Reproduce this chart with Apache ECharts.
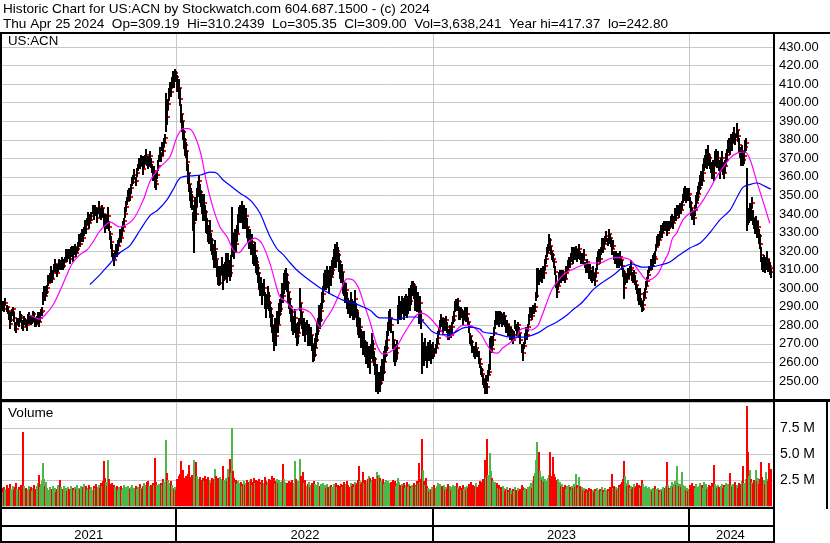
<!DOCTYPE html>
<html><head><meta charset="utf-8">
<script src="https://cdn.jsdelivr.net/npm/echarts@6/dist/echarts.min.js"></script>
<style>html,body{margin:0;padding:0;background:#fff}#c{width:830px;height:543px}</style>
</head><body><div id="c"></div>
<script>
// ---- categories (trading-day index of first session of each year) ----
const yearLabels = ['2021','2022','2023','2024'];
const yearStartIdx = [0, 175, 426, 676];
const priceTicks = [250,260,270,280,290,300,310,320,330,340,350,360,370,380,390,400,410,420,430];
const volumeTicks = [2.5, 5.0, 7.5];

// ---- daily close (US:ACN), Apr 2021 - Apr 25 2024 ----
const close = [
289,291,290,292,290,291,289,292,290,288,
285,281,283,287,289,284,280,278,281,283,
282,285,284,281,279,282,283,281,280,283,
285,284,282,283,286,284,282,281,283,284,
282,284,287,288,295,297,296,298,300,303,
306,309,305,308,311,313,311,308,312,314,
312,313,315,312,314,316,318,317,319,318,
316,319,321,317,320,322,319,321,323,326,
324,328,330,327,331,334,332,336,338,335,
337,339,342,340,343,341,338,342,344,341,
339,343,340,336,334,337,335,339,333,329,
325,320,317,315,318,321,319,323,325,328,
327,331,333,336,340,344,347,350,352,349,
354,357,359,361,358,362,365,368,366,370,
368,364,367,370,372,369,366,369,371,368,
364,361,363,358,356,361,366,370,373,371,
376,374,378,381,396,392,399,404,408,406,
411,414,412,416,414,
411,408,402,394,390,384,380,377,374,368,
362,356,352,349,347,335,338,344,340,350,
353,358,352,348,345,342,346,341,336,333,
330,328,331,326,322,320,317,321,316,310,
306,303,307,311,305,308,310,313,309,314,
311,308,312,330,325,322,326,324,329,336,
339,341,340,343,338,341,336,339,333,329,
326,328,322,325,319,316,320,314,311,308,
305,300,302,297,300,294,290,293,296,292,
289,285,280,276,272,278,274,283,280,286,
289,293,298,296,302,305,307,303,298,294,
290,287,283,279,281,284,277,274,276,280,
292,287,283,278,280,276,279,274,277,273,
275,270,266,264,268,272,277,280,285,283,
288,293,297,303,306,304,308,305,303,307,
306,310,313,316,318,316,320,318,314,311,
307,309,303,300,297,299,293,291,288,292,
290,287,289,294,288,284,281,277,279,274,
272,269,271,267,264,266,261,263,260,266,
270,267,262,258,250,253,248,251,249,254,
257,255,260,264,268,272,278,282,284,280,
272,266,262,265,268,285,291,289,287,292,
290,288,291,293,289,292,295,293,297,300,
302,298,294,296,291,293,288,292,283,262,
266,264,268,265,263,267,265,268,264,266,
267,
265,268,270,273,277,280,284,281,278,282,
280,283,279,276,274,277,275,279,283,285,
289,292,290,293,287,285,288,286,283,285,
288,284,286,282,279,274,271,268,267,266,
264,268,265,262,259,256,254,251,248,245,
250,247,253,255,268,271,267,272,276,281,
285,283,285,282,286,284,281,283,285,282,
279,281,277,279,275,277,274,272,275,280,
279,277,280,276,272,268,265,269,273,277,
275,279,283,286,288,285,289,288,290,296,
306,308,304,307,309,306,310,308,312,316,
319,322,326,323,320,318,316,314,309,303,
298,301,305,308,306,309,307,305,308,310,
312,315,313,317,319,316,320,318,321,317,
319,321,318,315,317,315,318,313,311,314,
310,308,311,307,305,308,306,304,308,313,
317,319,316,320,323,321,324,326,328,325,
329,327,324,321,323,318,315,317,313,316,
314,317,315,312,309,300,304,306,305,309,
307,310,311,307,305,308,304,302,299,296,
294,297,293,289,291,295,298,301,304,307,
310,313,312,315,317,316,322,325,327,326,
329,331,330,332,334,333,335,330,334,333,
334,336,338,335,337,340,338,342,343,341,
344,342,345,348,350,352,349,351,350,351,
346,343,340,338,342,346,349,351,354,357,
360,358,362,366,369,371,368,372,370,367,
365,363,366,362,369,371,368,370,366,363,
367,370,365,362,366,369,372,376,378,375,
380,378,381,383,380,385,382,377,373,370,
374,369,371,376,378,341,337,339,343,340,
346,338,335,333,336,331,333,328,324,318,
314,312,315,311,314,316,313,312,311,309
];
// ---- daily high above close / low below close ----
const highAbove = [
2,3,2,1,3,2,2,3,1,2, 3,2,4,2,1,3,2,2,3,1, 2,3,2,2,3,3,1,2,2,3, 2,1,3,2,2,3,2,1,2,3,
2,3,2,2,3,4,2,3,2,4, 2,3,3,2,2,3,2,3,1,2, 3,2,2,3,2,1,3,2,2,3, 2,3,2,2,3,2,3,1,2,3,
3,2,2,3,2,3,2,2,3,2, 3,2,3,2,2,3,2,1,3,2, 3,2,3,4,2,3,2,5,3,2, 3,4,2,3,2,3,2,3,2,4,
3,2,3,2,4,3,2,3,2,3, 2,3,2,3,2,3,2,2,3,2, 3,2,4,2,3,2,3,2,3,2, 3,2,3,4,3,2,3,2,3,2,
3,2,3,2,9,4,3,4,3,4, 3,3,4,2,3,
4,5,6,5,4,6,5,4,5,6, 5,6,4,5,4,6,7,5,6,4, 5,3,4,5,6,4,5,4,6,5, 4,5,6,4,5,4,6,5,4,5,
6,4,5,6,4,5,4,6,4,5, 4,5,6,14,5,4,6,4,5,4, 5,4,5,4,6,4,5,4,5,4, 5,4,6,4,5,4,5,4,6,5,
4,5,4,6,5,4,5,4,5,6, 4,5,6,4,5,6,4,5,4,6, 5,4,5,4,6,5,4,5,6,4, 5,4,6,5,4,5,4,5,6,4,
8,5,4,5,4,6,4,5,4,5, 4,5,4,6,5,4,5,4,6,5, 4,5,4,5,4,6,4,5,4,5, 4,5,4,5,6,4,5,4,5,4,
5,4,6,4,5,4,5,4,5,6, 4,5,4,5,4,5,6,4,5,4, 5,4,6,5,4,5,4,6,5,4, 6,5,4,5,4,6,5,4,5,4,
5,4,6,5,4,5,4,6,5,4, 5,6,4,5,4,6,5,4,5,4, 5,4,5,4,6,4,5,4,5,4, 2,5,4,5,4,5,8,4,5,14,
5,4,5,4,6,4,5,4,5,4, 4,
3,2,3,4,2,3,2,3,4,2, 3,2,3,2,4,3,2,3,2,3, 4,2,3,2,3,4,2,3,2,3, 2,3,4,2,3,2,3,4,2,3,
2,3,2,4,3,2,3,2,3,4, 3,2,3,4,5,3,4,2,3,2, 3,2,3,4,2,3,2,3,2,3, 4,2,3,2,3,2,4,3,2,3,
2,3,2,3,4,2,3,2,3,2, 3,2,3,4,2,3,2,3,2,2, 5,3,2,3,2,3,2,3,4,2, 3,2,3,4,3,2,3,2,3,4,
3,2,4,2,3,1,3,2,4,2, 3,2,4,2,3,2,2,3,2,3, 2,3,2,4,2,2,3,1,3,2, 3,2,2,3,2,4,2,2,3,4,
3,2,3,2,4,2,3,2,3,2, 3,2,3,2,3,2,4,3,2,3, 2,3,2,3,2,10,3,2,3,2, 3,2,4,2,3,2,3,2,3,4,
2,3,2,4,2,3,2,3,2,3, 2,3,1,3,2,4,2,3,2,3, 2,3,2,3,2,3,1,3,2,3, 2,3,2,4,2,3,2,3,2,3,
2,3,2,3,4,3,2,3,2,3,
3,4,3,4,3,4,3,4,3,4, 3,4,5,4,3,4,3,5,3,4, 3,4,3,4,5,4,3,4,3,4, 3,4,3,5,3,4,3,4,3,4,
3,4,3,4,3,4,3,4,3,4, 3,4,3,4,3,24,5,4,3,4, 3,4,3,4,3,4,3,4,5,4, 3,4,3,4,3,4,3,4,3,1.24
];
const lowBelow = [
2,1,3,2,2,3,2,1,3,2, 2,3,1,2,3,2,3,2,1,2, 3,2,2,3,2,2,3,2,3,2, 2,3,2,2,3,2,3,2,2,3,
3,2,2,3,4,2,3,2,3,2, 3,2,2,3,2,2,3,2,3,2, 2,3,2,2,3,2,2,3,2,2, 3,2,2,3,2,3,2,2,3,2,
2,3,2,2,3,2,3,2,2,3, 2,3,2,3,2,2,3,2,2,3, 2,3,2,3,4,2,3,3,2,3, 4,3,2,3,2,3,2,3,2,3,
2,3,2,3,2,3,2,3,2,2, 3,2,3,2,3,2,2,3,2,3, 2,3,2,3,2,3,2,3,2,3, 2,3,2,4,3,2,3,2,2,3,
2,3,2,3,12,4,3,3,4,3, 3,2,4,3,3,
5,6,4,5,6,4,5,6,4,5, 6,4,5,6,5,4,19,5,4,6, 4,5,6,4,5,6,4,5,6,4, 5,4,5,6,4,5,6,4,5,4,
4,2,5,4,6,4,5,4,6,4, 5,4,6,13,5,6,4,5,4,6, 4,6,5,4,6,5,4,5,6,4, 5,6,4,5,6,4,5,6,4,5,
6,4,5,6,4,5,6,4,5,4, 5,6,4,5,6,4,5,6,4,5, 4,6,5,4,5,6,4,5,6,5, 4,5,6,4,5,6,4,5,6,4,
4,6,5,4,6,5,4,5,6,4, 5,4,6,3,5,4,6,5,4,5, 6,4,5,4,6,5,4,5,6,4, 5,4,6,5,4,5,6,4,5,6,
4,5,6,4,5,6,4,5,4,6, 5,4,6,5,4,5,6,4,5,6, 4,5,6,4,5,6,4,5,6,4, 5,6,4,5,6,4,5.2,4,5,6,
4,5,6,4,5,6,4,5,6,4, 5,6,4,5,6,4,5,6,4,5, 4,5,6,4,5,6,4,5,6,4, 5,4,6,5,4,6,7,4,5,8,
4,6,5,4,6,5,4,6,5,4, 5,
2,3,2,3,2,3,4,2,3,2, 3,2,3,4,2,3,2,3,2,3, 2,3,2,3,4,2,3,2,3,2, 3,2,3,2,3,4,2,3,2,3,
2,3,2,3,2,3,2,3,2,2, 3,4,3,2,12,3,2,3,2,3, 2,3,2,3,2,3,2,3,2,3, 3,2,3,2,3,2,3,2,3,2,
2,3,2,3,2,3,4,2,3,2, 3,2,3,2,3,2,3,2,3,3, 11,3,2,3,2,3,2,3,2,3, 2,3,2,3,2,3,2,3,2,3,
3,2,3,2,3,2,3,2,3,2, 2,3,2,3,2,3,2,3,2,3, 3,2,3,2,3,2,3,2,3,2, 2,3,2,3,2,3,2,3,2,3,
3,2,3,2,3,2,3,2,3,2, 2,3,2,3,2,3,2,3,2,3, 3,2,3,2,3,6,2,3,2,3, 2,3,2,3,2,3,2,3,2,3,
3,2,3,2,3,2,3,2,3,2, 2,3,2,3,2,3,2,3,2,3, 3,2,3,2,3,2,3,2,3,2, 2,3,2,3,2,3,2,3,2,3,
3,2,3,2,3,2,3,2,3,2,
3,4,3,4,3,4,3,4,3,4, 4,3,4,3,4,3,4,3,4,3, 3,4,3,4,3,4,3,4,3,4, 4,3,4,3,4,3,4,3,4,3,
3,4,3,4,3,4,3,4,3,4, 4,3,4,3,4,10,3,4,3,4, 3,4,3,4,3,4,3,4,3,4, 4,3,4,3,4,3,4,3,4,3.65
];
// ---- daily volume, millions ----
const volume = [
1.6,1.4,1.9,1.5,1.7,1.3,1.8,1.6,2.0,1.5, 1.7,2.1,1.6,1.4,1.9,1.5,1.8,2.2,1.6,1.4,
1.8,1.5,2.0,1.6,7.1,1.9,1.5,1.7,1.4,1.6, 1.9,1.5,1.8,1.4,1.7,2.0,1.5,1.6,1.9,2.2,
3.0,1.8,2.1,2.4,4.1,2.6,1.9,2.3,1.7,1.5, 1.8,1.4,1.6,1.9,1.5,1.7,1.3,1.6,2.0,1.5,
2.5,1.8,1.4,1.6,1.9,1.5,1.7,1.4,1.8,1.6, 1.5,1.9,1.4,1.7,1.5,1.8,1.6,2.0,1.4,1.7,
1.6,1.9,1.5,1.8,2.1,1.6,1.9,1.5,1.7,2.0, 1.6,1.8,1.5,1.9,1.7,2.1,1.6,1.8,2.0,1.7,
2.2,1.9,2.4,4.3,2.7,2.3,1.9,4.4,2.6,2.1, 1.9,2.2,1.7,2.0,1.8,1.6,1.9,1.5,1.8,1.6,
1.9,1.5,1.7,2.0,1.6,1.8,1.5,1.9,1.7,1.6, 1.8,2.0,1.5,1.7,1.9,1.6,1.8,1.5,2.1,1.7,
1.6,1.9,2.2,1.8,2.0,2.3,2.4,1.9,1.7,2.0, 1.8,2.2,2.0,4.6,2.3,2.0,1.8,2.1,1.9,2.2,
2.0,2.6,2.3,2.1,6.3,3.2,2.5,2.2,1.9,2.4, 2.0,1.7,1.6,1.8,1.5,
2.6,2.9,3.1,4.3,2.8,3.5,2.7,2.4,2.9,2.6, 3.1,3.9,2.8,2.5,3.0,2.7,4.4,2.8,4.2,2.9,
2.6,2.4,2.8,2.5,2.2,2.7,2.4,2.9,2.3,2.6, 2.8,2.3,2.5,2.2,2.7,2.4,2.6,3.6,2.9,2.5,
2.7,2.4,2.8,2.6,3.8,2.5,2.3,2.7,2.4,3.6, 2.8,4.5,3.2,7.5,3.4,2.7,2.3,2.5,2.1,2.4,
2.2,2.0,2.3,1.9,2.1,2.4,2.0,2.2,2.5,2.3, 2.1,2.4,2.6,2.0,2.3,2.7,2.2,2.5,2.1,2.4,
2.6,2.3,2.1,2.5,2.2,2.8,2.4,2.0,2.3,2.6, 2.2,2.5,2.9,2.3,2.7,2.1,2.4,2.6,2.2,2.5,
2.3,2.0,2.4,4.0,2.6,2.3,2.0,2.2,1.9,2.4, 2.1,2.3,2.5,2.0,2.2,4.3,2.6,2.1,2.4,2.2,
4.5,2.9,2.4,3.3,2.2,2.5,1.9,2.1,2.3,1.8, 2.0,2.2,1.9,2.4,2.1,1.8,2.0,2.3,1.7,1.9,
2.1,1.8,2.2,1.9,2.0,1.7,2.1,1.8,1.6,1.9, 2.0,1.8,1.7,2.1,1.9,2.2,1.8,2.0,1.7,1.9,
2.1,1.8,2.0,2.3,1.9,2.1,2.4,2.0,1.8,2.2, 1.9,2.1,1.8,2.3,2.0,2.2,2.5,3.8,2.4,2.1,
2.3,3.3,2.2,2.5,2.0,2.4,2.6,2.9,2.7,2.3, 2.5,2.8,2.2,2.6,2.4,3.3,2.9,3.0,2.7,2.4,
2.2,2.6,2.1,2.3,2.5,2.0,2.4,2.2,2.0,2.3, 2.5,2.1,2.4,1.9,2.2,2.7,2.3,2.0,1.8,2.1,
1.9,2.2,1.7,2.0,2.3,1.8,2.1,1.9,1.7,2.0, 1.8,2.2,2.0,1.9,2.4,2.1,4.1,2.3,2.6,6.4,
3.5,2.4,2.0,2.7,1.9,1.7,1.4,1.6,1.5,1.8, 1.6,
2.0,1.7,1.9,2.2,1.8,2.1,1.6,1.9,1.7,2.0, 1.5,1.8,1.6,2.1,1.7,1.9,1.5,1.8,2.0,1.6,
1.9,1.7,2.2,1.8,1.6,1.9,1.5,1.7,2.0,1.6, 1.8,1.5,1.9,1.7,2.1,1.8,2.3,1.9,2.0,1.7,
1.9,2.2,1.8,2.0,2.4,2.1,2.3,2.6,2.2,4.4, 2.8,6.4,3.0,2.6,5.1,3.4,2.7,2.4,2.1,2.3,
1.9,2.2,1.7,2.0,1.6,1.8,1.5,1.9,1.7,1.4, 1.6,1.8,1.5,1.3,1.7,1.5,1.2,1.6,1.4,1.8,
1.5,1.3,1.7,1.4,1.6,2.0,1.8,1.5,1.7,1.4, 1.6,1.8,1.5,1.9,2.2,1.7,2.4,2.9,3.2,4.4,
6.2,3.6,5.2,3.4,2.8,2.5,2.9,2.3,2.6,2.1, 2.4,2.7,3.0,5.2,2.9,2.6,4.7,3.1,2.8,2.5,
2.2,2.6,2.0,2.3,1.9,2.1,1.8,2.0,1.6,1.9, 1.7,2.0,1.8,1.5,1.9,1.7,2.1,1.8,3.1,2.0,
1.7,2.8,1.9,1.6,1.8,1.5,1.7,1.4,1.6,1.3, 1.5,1.7,1.4,1.6,1.2,1.5,1.3,1.6,1.4,1.7,
1.5,1.3,1.6,1.4,1.8,1.5,1.3,1.7,1.5,1.6, 1.4,1.8,1.5,3.1,1.7,1.9,1.6,1.8,1.5,1.7,
2.0,1.8,2.1,2.3,2.6,4.3,2.9,2.2,1.9,2.5, 2.0,1.7,1.9,1.6,1.8,2.1,1.7,1.9,2.2,1.8,
2.0,1.7,1.9,2.5,2.1,1.8,1.6,1.9,1.7,1.5, 1.8,1.6,1.4,1.7,1.5,1.9,1.6,1.4,1.7,1.5,
1.3,1.6,1.4,1.8,1.5,1.7,1.9,4.2,2.0,1.7, 1.6,1.9,2.3,1.8,2.1,2.4,2.0,3.8,2.2,1.9,
2.1,1.8,3.3,2.0,1.7,1.9,1.5,1.7,1.4,1.6,
2.0,1.8,2.2,1.9,1.7,2.1,1.8,1.6,1.9,2.2, 1.8,2.0,1.7,2.3,1.9,2.1,1.6,1.8,2.0,1.7,
1.9,2.2,1.8,3.9,2.1,1.9,1.7,2.0,1.8,1.6, 1.9,2.1,1.7,2.0,1.8,2.2,1.9,2.1,1.8,3.2,
2.0,1.8,2.1,1.9,2.3,2.0,1.7,2.2,1.9,2.1, 2.4,3.8,2.2,2.0,2.6,9.6,5.2,2.9,3.5,2.6,
2.3,2.1,2.5,2.2,3.5,2.4,2.7,2.1,2.6,4.2, 2.8,2.3,2.5,2.1,3.3,2.6,2.4,4.1,2.7,3.6
];
// ---- moving averages (index, value) ----
const magentaIdx = [31,41,46,54,61,68,73,80,87,93,100,110,119,132,142,149,158,168,175,181,186,191,198,204,210,217,224,230,235,243,251,258,266,273,276,282,290,295,305,310,315,320,326,334,341,347,352,357,364,370,376,383,390,396,403,409,414,420,427,434,439,444,448,454,461,471,478,483,488,493,500,507,510,515,520,527,531,536,541,546,554,562,569,578,588,598,605,615,620,627,634,639,645,650,655,659,663,669,676,683,689,696,702,708,715,722,730,735,741,747,754];
const magentaVal = [285.6,283.4,285.6,291,299,308,313.6,318,320.6,325,331,335.6,333,337,347.5,358,365,370.7,381.5,386,386,383.6,373,356.7,343.7,333,327.6,320.6,319,324,327,324,313,299,295,292.6,288,289,287,283,279,283,288,297.4,305,304.4,300.6,292.6,281,269.5,264.5,265.6,269,274.8,281,285.6,286.6,285,281,276.4,273.7,274.8,277.5,280,280,275.8,269.4,265.6,265,267.8,270.5,273.7,277.5,278.5,277.5,279.6,284.5,292,299,303.3,308,310.3,312,313.6,313.6,316,316.5,316,314,308.7,304.4,305,308,313.6,319,327,329.7,336.7,340.5,343,347.5,354,360,364.8,370,372.8,373.4,369,358,347.5,335];
const blueIdx = [90,100,110,119,129,139,149,156,165,171,178,188,198,207,214,220,230,237,243,249,256,263,266,273,279,285,292,298,308,318,327,337,347,357,364,373,380,390,400,409,417,425,435,445,454,461,471,474,488,500,513,527,536,546,556,562,569,575,581,591,601,611,620,629,637,647,656,666,676,686,696,705,715,722,728,735,742,749,755];
const blueVal = [302,307.5,313.6,319,323,331.4,339.4,342,347.5,353,359.4,360.5,361,362.6,362,358.3,354,351,349,346,340.5,331.4,327.6,321,318,314,309.8,307,302.8,299,296.3,293.6,292,289.9,288,284,284,283,284.5,284.5,281,276.4,274.8,275.8,278.5,279,278,276.4,275.3,273.7,273.7,275.8,279,281.8,285.6,288.5,291.5,295,299,303.3,307,311.4,313,311.4,311.4,312.5,314,318,321.7,324.4,330.3,336.7,342,349,354.5,356,356.7,355,353.4];

const N = close.length;
[['highAbove',highAbove],['lowBelow',lowBelow],['volume',volume]].forEach(([n,a])=>{ if(a.length!==N) throw new Error(n+' length '+a.length+' vs close '+N); });
if (magentaIdx.length!==magentaVal.length || blueIdx.length!==blueVal.length) throw new Error('MA length mismatch');

const priceData = close.map((c,i)=>[i, c - lowBelow[i], c + highAbove[i], c]);
const volData = volume.map((v,i)=>[i, v, i===0 ? 1 : Math.sign(close[i]-close[i-1])]);
const yearBounds = yearStartIdx.slice(1).map(i=>[i-0.5]);
const yearSpans = yearLabels.map((lab,k)=>[yearStartIdx[k]-0.5, (k+1<yearStartIdx.length? yearStartIdx[k+1] : N)-0.5, k]);

const FONT = '"Liberation Sans", Arial, sans-serif';
const GRID_L = 1, GRID_W = 773;
const XMIN = 3.1, XMAX = 758.1;
const GRAY = '#c8c8c8';

function vlineSeries(xi, yi){
  return {type:'custom', xAxisIndex:xi, yAxisIndex:yi, z:1, silent:true, clip:true, data:yearBounds,
    renderItem(params, api){
      const cs = params.coordSys;
      const x = Math.round(api.coord([api.value(0), 0])[0]) + 0.5;
      return {type:'line', shape:{x1:x,y1:cs.y,x2:x,y2:cs.y+cs.height}, style:{stroke:GRAY, lineWidth:1}};
    }};
}

const chart = echarts.init(document.getElementById('c'), null, {renderer:'canvas'});
chart.setOption({
  animation:false,
  backgroundColor:'#fff',
  grid:[
    {left:GRID_L, width:GRID_W, top:28.4, height:371.2},
    {left:GRID_L, width:GRID_W, top:402, height:104},
    {left:GRID_L, width:GRID_W, top:527, height:14}
  ],
  xAxis:[0,1,2].map(g=>({type:'value', gridIndex:g, min:XMIN, max:XMAX, show:false})),
  yAxis:[
    {type:'value', gridIndex:0, position:'right', min:240, max:440, interval:10,
     axisLine:{show:false}, axisTick:{show:false},
     splitLine:{lineStyle:{color:GRAY, width:1}},
     axisLabel:{margin:5, color:'#000', fontSize:13, fontFamily:FONT,
       formatter:v=> priceTicks.indexOf(v)>=0 ? v.toFixed(2) : ''}},
    {type:'value', gridIndex:1, position:'right', min:0, max:10, interval:2.5,
     axisLine:{show:false}, axisTick:{show:false},
     splitLine:{lineStyle:{color:GRAY, width:1}},
     axisLabel:{margin:6, color:'#000', fontSize:14, fontFamily:FONT,
       formatter:v=> volumeTicks.indexOf(v)>=0 ? v.toFixed(1)+' M' : ''}},
    {type:'value', gridIndex:2, min:0, max:1, show:false}
  ],
  series:[
    vlineSeries(0,0),
    vlineSeries(1,1),
    {type:'custom', name:'US:ACN', xAxisIndex:0, yAxisIndex:0, z:2, clip:true, progressive:0,
     data:priceData, encode:{x:0, y:[1,2,3]},
     renderItem(params, api){
       const i = api.value(0);
       const pl = api.coord([i, api.value(1)]);
       const ph = api.coord([i, api.value(2)]);
       const pc = api.coord([i, api.value(3)]);
       const x = Math.floor(pl[0]);
       const yt = Math.round(ph[1]), yb = Math.round(pl[1]);
       return {type:'group', children:[
         {type:'rect', shape:{x:x, y:yt, width:2, height:Math.max(1,yb-yt)}, style:{fill:'#000'}},
         {type:'rect', shape:{x:x+2, y:Math.round(pc[1])-1, width:2, height:2}, style:{fill:'#ff0000'}}
       ]};
     }},
    {type:'line', xAxisIndex:0, yAxisIndex:0, z:3, data:magentaIdx.map((x,k)=>[x,magentaVal[k]]),
     smooth:0.3, symbol:'none', silent:true, lineStyle:{color:'#ff00ff', width:1.2}},
    {type:'line', xAxisIndex:0, yAxisIndex:0, z:3, data:blueIdx.map((x,k)=>[x,blueVal[k]]),
     smooth:0.3, symbol:'none', silent:true, lineStyle:{color:'#0000ff', width:1.2}},
    {type:'custom', name:'Volume', xAxisIndex:1, yAxisIndex:1, z:2, clip:true, progressive:0,
     data:volData, encode:{x:0, y:1},
     renderItem(params, api){
       const i = api.value(0);
       const p0 = api.coord([i, 0]);
       const p1 = api.coord([i, api.value(1)]);
       const d = api.value(2);
       const x = Math.floor(p0[0]);
       const yt = Math.round(p1[1]), yb = Math.round(p0[1]);
       return {type:'rect', shape:{x:x, y:yt, width:2, height:Math.max(1,yb-yt)},
         style:{fill: d>0 ? '#4cb84c' : (d<0 ? '#ff0000' : '#a0a0a0')}};
     }},
    {type:'custom', xAxisIndex:2, yAxisIndex:2, z:5, clip:false, silent:true, data:yearSpans,
     renderItem(params, api){
       const cs = params.coordSys;
       const xa = Math.max(cs.x, api.coord([api.value(0),0])[0]);
       const xb = Math.min(cs.x+cs.width, api.coord([api.value(1),0])[0]);
       const k = api.value(2);
       const kids = [{type:'text', style:{text:yearLabels[k], x:(xa+xb)/2, y:cs.y+cs.height/2+1,
         align:'center', verticalAlign:'middle', font:'13px '+FONT, fill:'#000'}}];
       if (k>0) {
         const xl = Math.round(xa);
         kids.push({type:'rect', shape:{x:xl-1, y:509, width:2, height:33}, style:{fill:'#000'}});
       }
       return {type:'group', children:kids};
     }}
  ],
  graphic:[
    {type:'rect', shape:{x:0,y:0,width:830,height:32}, style:{fill:'#fff'}, z:100},
    {type:'text', x:3, y:2, z:101, style:{text:'Historic Chart for US:ACN by Stockwatch.com 604.687.1500 - (c) 2024', font:'13.6px '+FONT, fill:'#000'}},
    {type:'text', x:3, y:17, z:101, style:{text:'Thu Apr 25 2024  Op=309.19  Hi=310.2439  Lo=305.35  Cl=309.00  Vol=3,638,241  Year hi=417.37  lo=242.80', font:'13.6px '+FONT, fill:'#000'}},
    {type:'rect', shape:{x:0,y:32,width:830,height:2}, style:{fill:'#000'}, z:100},
    {type:'rect', shape:{x:0,y:399,width:830,height:3}, style:{fill:'#000'}, z:100},
    {type:'rect', shape:{x:0,y:507,width:775,height:2}, style:{fill:'#000'}, z:100},
    {type:'rect', shape:{x:0,y:525,width:775,height:2}, style:{fill:'#000'}, z:100},
    {type:'rect', shape:{x:0,y:541,width:775,height:2}, style:{fill:'#000'}, z:100},
    {type:'rect', shape:{x:0,y:32,width:2,height:511}, style:{fill:'#000'}, z:100},
    {type:'rect', shape:{x:773,y:32,width:2,height:511}, style:{fill:'#000'}, z:100},
    {type:'rect', shape:{x:826,y:399,width:2,height:110}, style:{fill:'#000'}, z:100},
    {type:'text', x:8, y:35, z:101, style:{text:'US:ACN', font:'13.3px '+FONT, fill:'#000'}},
    {type:'text', x:8, y:406, z:101, style:{text:'Volume', font:'13.6px '+FONT, fill:'#000'}}
  ]
});
</script>
</body></html>
